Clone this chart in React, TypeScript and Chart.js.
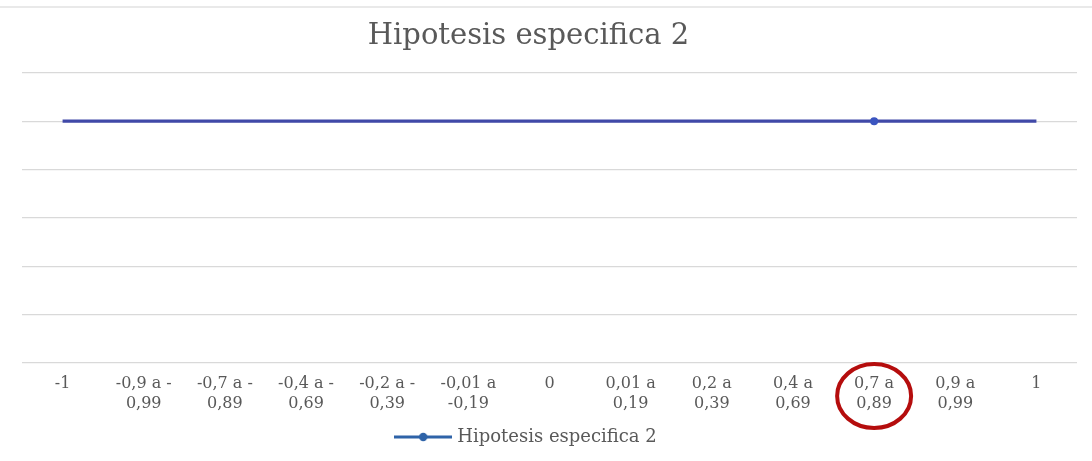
import React, { useEffect, useRef } from "react";
import { Chart, registerables } from "chart.js";

Chart.register(...registerables);

const categories: (string | string[])[] = [
  "-1",
  ["-0,9 a -", "0,99"],
  ["-0,7 a -", "0,89"],
  ["-0,4 a -", "0,69"],
  ["-0,2 a -", "0,39"],
  ["-0,01 a", "-0,19"],
  "0",
  ["0,01 a", "0,19"],
  ["0,2 a", "0,39"],
  ["0,4 a", "0,69"],
  ["0,7 a", "0,89"],
  ["0,9 a", "0,99"],
  "1",
];

const seriesName = "Hipotesis especifica 2";
const seriesValues = [5, 5, 5, 5, 5, 5, 5, 5, 5, 5, 5, 5, 5];
const markerRadius = [0, 0, 0, 0, 0, 0, 0, 0, 0, 0, 4, 0, 0];
const highlightIndex = 10;

const TEXT = "#595959";
const FONT = "'DejaVu Serif', serif";

export default function App() {
  const ref = useRef<HTMLCanvasElement | null>(null);

  useEffect(() => {
    if (!ref.current) return;

    const icon = document.createElement("canvas");
    icon.width = 58;
    icon.height = 10;
    const g = icon.getContext("2d")!;
    g.strokeStyle = "#2e63a8";
    g.lineWidth = 3;
    g.beginPath();
    g.moveTo(0, 5);
    g.lineTo(58, 5);
    g.stroke();
    g.fillStyle = "#2e63a8";
    g.beginPath();
    g.arc(29, 5, 4.2, 0, Math.PI * 2);
    g.fill();

    const decor = {
      id: "decor",
      afterLayout(chart: any) {
        if (chart.legend) {
          chart.legend.left -= 22;
          chart.legend.right -= 22;
        }
        if (chart.titleBlock) {
          chart.titleBlock.left -= 21;
          chart.titleBlock.right -= 21;
        }
      },
      beforeDraw(chart: any) {
        const ctx = chart.ctx;
        ctx.save();
        ctx.fillStyle = "#ffffff";
        ctx.fillRect(0, 0, chart.width, chart.height);
        ctx.strokeStyle = "#e2e2e2";
        ctx.lineWidth = 1.5;
        ctx.beginPath();
        ctx.moveTo(0, 7);
        ctx.lineTo(chart.width, 7);
        ctx.stroke();
        ctx.restore();
      },
      afterDraw(chart: any) {
        const ctx = chart.ctx;
        const xs = chart.scales.x;
        const cx = xs.getPixelForValue(highlightIndex);
        const cy = chart.chartArea.bottom + 33;
        ctx.save();
        ctx.strokeStyle = "#b50d0d";
        ctx.lineWidth = 4;
        ctx.beginPath();
        ctx.ellipse(cx, cy, 37, 32, 0, 0, Math.PI * 2);
        ctx.stroke();
        ctx.restore();
      },
    };

    const chart = new Chart(ref.current, {
      type: "line",
      data: {
        labels: categories as any,
        datasets: [
          {
            label: seriesName,
            data: seriesValues,
            borderColor: "#4049a8",
            backgroundColor: "#3b55c0",
            borderWidth: 3.2,
            pointRadius: markerRadius,
            pointHoverRadius: markerRadius,
            pointBackgroundColor: "#3b55c0",
            pointBorderColor: "#3b55c0",
            pointBorderWidth: 0,
            tension: 0,
          },
        ],
      },
      options: {
        responsive: false,
        animation: false,
        layout: { padding: { left: 22, right: 15, top: 0, bottom: 5 } },
        plugins: {
          title: {
            display: true,
            text: seriesName,
            color: TEXT,
            font: { family: FONT, size: 29, weight: "normal", lineHeight: 1.2 },
            padding: { top: 19, bottom: 19 },
          },
          legend: {
            position: "bottom",
            labels: {
              usePointStyle: true,
              pointStyleWidth: 50,
              padding: 3,
              color: TEXT,
              font: { family: FONT, size: 18, lineHeight: 1.2 },
              generateLabels: () => [
                {
                  text: seriesName,
                  pointStyle: icon as any,
                  fillStyle: "#2e63a8",
                  strokeStyle: "#2e63a8",
                  lineWidth: 0,
                  hidden: false,
                  datasetIndex: 0,
                  fontColor: TEXT,
                } as any,
              ],
            },
          },
          tooltip: { enabled: false },
        },
        scales: {
          x: {
            offset: true,
            grid: { display: false, drawTicks: false },
            border: { display: false },
            ticks: {
              color: TEXT,
              padding: 11,
              maxRotation: 0,
              autoSkip: false,
              font: { family: FONT, size: 16, lineHeight: 1.25 },
            },
          },
          y: {
            min: 0,
            max: 6,
            ticks: { display: false, stepSize: 1 },
            border: { display: false },
            grid: { color: "#d9d9d9", lineWidth: 1.3, drawTicks: false },
          },
        },
      },
      plugins: [decor],
    });

    return () => chart.destroy();
  }, []);

  return (
    <div style={{ position: "absolute", left: 0, top: 0, width: 1092, height: 461 }}>
      <canvas ref={ref} width={1092} height={461} style={{ display: "block" }} />
    </div>
  );
}
